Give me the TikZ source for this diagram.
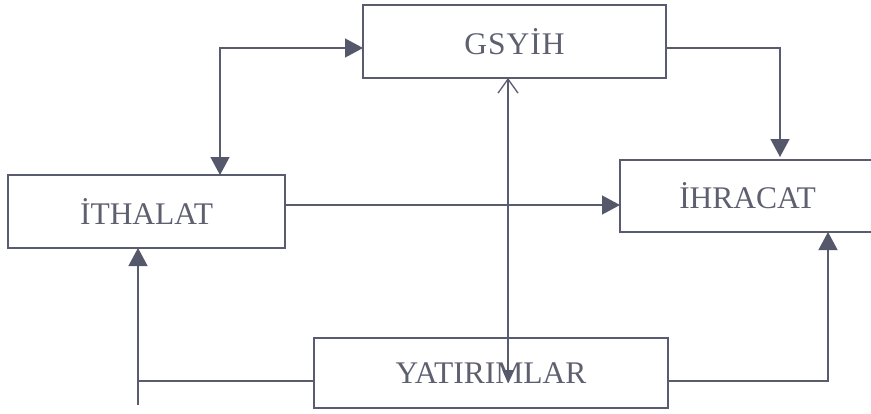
\documentclass[tikz,border=0pt]{standalone}
\usepackage{fontspec}
\setmainfont{Liberation Serif}
\usetikzlibrary{arrows.meta,calc}
\definecolor{linec}{HTML}{585C6E}
\definecolor{textc}{HTML}{5E6070}
\definecolor{tipc}{HTML}{55586A}
\begin{document}
\begin{tikzpicture}[x=1pt,y=-1pt,
  box/.style={draw=linec,line width=1.3pt,inner sep=0pt,outer sep=0pt,
    text=textc,font=\fontsize{31.5}{33}\selectfont},
  conn/.style={draw=linec,line width=1.3pt},
  tri/.tip={Triangle[length=18pt,width=19pt,color=tipc]},
  smalltri/.tip={Triangle[length=13pt,width=11pt,color=tipc]},
  barb/.tip={Straight Barb[length=14pt,width=20pt,color=linec,line width=1.3pt]}]
\useasboundingbox (0,0) rectangle (871,413);
\node[box,minimum width=303pt,minimum height=73pt] (gsy) at (514.5,41.5) {G\kern1ptS\kern1ptY\kern1ptİ\kern1ptH};
\node[box,minimum width=277pt,minimum height=73pt] (ith) at (146.5,211.5) {İTHALAT};
\node[box,minimum width=255pt,minimum height=72pt] (ihr) at (747.5,196) {İHRACAT};
\node[box,minimum width=354pt,minimum height=70pt] (yat) at (491,373) {YATIRIMLAR};
% GSYIH <-> ITHALAT
\draw[conn,tri-tri] ($(gsy.west)+(0,6.5)$) -| ($(ith.north west)+(212,0)$);
% ITHALAT -> IHRACAT
\coordinate (a) at ($(ith.east)+(0,-6.5)$);
\draw[conn,-tri] (a) -- (a -| ihr.west);
% GSYIH -> IHRACAT
\draw[conn,-tri,shorten >=3pt] ($(gsy.east)+(0,6.5)$) -| ($(ihr.north west)+(160,0)$);
% YATIRIMLAR -> IHRACAT
\draw[conn,-tri] ($(yat.east)+(0,8)$) -| ($(ihr.south west)+(208,0)$);
% YATIRIMLAR -> ITHALAT
\coordinate (tailc) at ($(ith.south west)+(130,157)$);
\coordinate (yw) at ($(yat.west)+(0,8)$);
\draw[conn,-tri] (tailc) -- ($(ith.south west)+(130,0)$);
\draw[conn] (yw) -- (yw -| tailc);
% central line
\draw[conn,barb-smalltri] ($(gsy.south west)+(145,0)$) -- ($(yat.north west)+(194,45)$);
\end{tikzpicture}
\end{document}
